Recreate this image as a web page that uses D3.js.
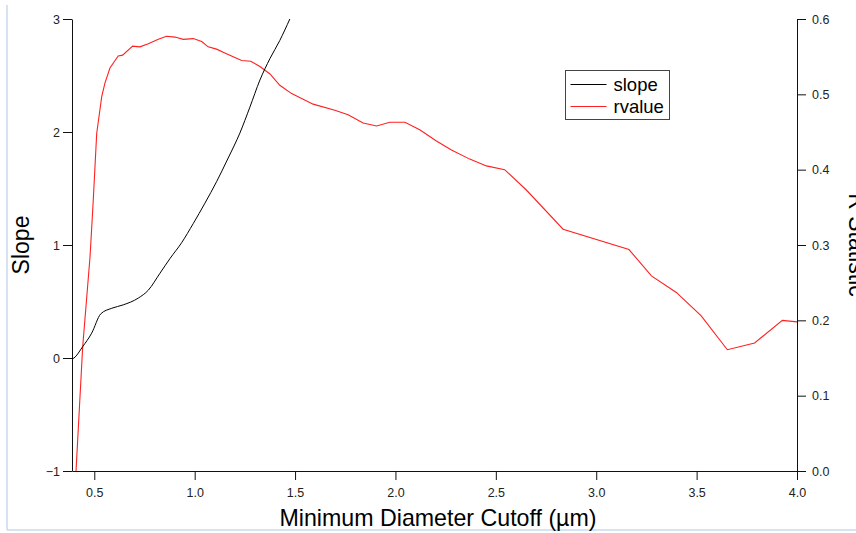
<!DOCTYPE html>
<html>
<head>
<meta charset="utf-8">
<script src="https://cdn.jsdelivr.net/npm/d3@7"></script>
<style>
  html, body { margin: 0; padding: 0; background: #fff; overflow: hidden; }
  svg { display: block; font-family: "Liberation Sans", Arial, Helvetica, sans-serif; }
</style>
</head>
<body>
<svg id="chart" width="856" height="533"></svg>
<script>
// Slope of the fit versus the minimum diameter cutoff
const slopeDiameter = [0.389, 0.399, 0.442, 0.487, 0.532, 0.587, 0.644, 0.719, 0.769, 0.827, 0.877, 0.935,
  0.993, 1.051, 1.109, 1.167, 1.225, 1.275, 1.325, 1.375, 1.424, 1.474];
const slopeValues = [-0.01, 0.0, 0.10, 0.22, 0.39, 0.44, 0.47, 0.53, 0.60, 0.75, 0.88, 1.02,
  1.19, 1.37, 1.56, 1.77, 1.99, 2.22, 2.46, 2.65, 2.81, 3.0];

// R statistic of the fit versus the minimum diameter cutoff
const rDiameter = [0.409, 0.442, 0.479, 0.495, 0.512, 0.537, 0.553, 0.578, 0.619, 0.641, 0.691, 0.727,
  0.769, 0.819, 0.86, 0.902, 0.943, 0.993, 1.035, 1.067, 1.109, 1.15, 1.192, 1.234, 1.279, 1.325,
  1.375, 1.424, 1.483, 1.59, 1.698, 1.764, 1.839, 1.906, 1.972, 2.047, 2.121, 2.204, 2.279, 2.37,
  2.453, 2.544, 2.652, 2.835, 3.163, 3.275, 3.399, 3.523, 3.653, 3.789, 3.927, 4.0];
const rValues = [0.0, 0.164, 0.285, 0.36, 0.448, 0.497, 0.515, 0.535, 0.551, 0.552, 0.564, 0.563,
  0.567, 0.573, 0.577, 0.576, 0.573, 0.574, 0.570, 0.563, 0.560, 0.555, 0.550, 0.545, 0.544, 0.537,
  0.527, 0.512, 0.501, 0.487, 0.479, 0.473, 0.462, 0.458, 0.463, 0.463, 0.453, 0.438, 0.426, 0.414,
  0.405, 0.400, 0.373, 0.321, 0.294, 0.259, 0.237, 0.206, 0.161, 0.170, 0.200, 0.198];

const xTicks = [0.5, 1.0, 1.5, 2.0, 2.5, 3.0, 3.5, 4.0];
const slopeTicks = [-1, 0, 1, 2, 3];
const rTicks = [0.0, 0.1, 0.2, 0.3, 0.4, 0.5, 0.6];

const legendLabels = ["slope", "rvalue"];
const seriesColors = ["#000000", "#ff2020"];

const svg = d3.select("#chart");

// page frame
svg.append("line").attr("x1", 7).attr("x2", 7).attr("y1", 5).attr("y2", 530)
  .attr("stroke", "#c8daf0").attr("stroke-width", 1.5);
svg.append("line").attr("x1", 7).attr("x2", 856).attr("y1", 530).attr("y2", 530)
  .attr("stroke", "#c8daf0").attr("stroke-width", 1.5);

const plotLeft = 72, plotRight = 797, plotTop = 19, plotBottom = 471;

const x = d3.scaleLinear().domain([0.389, 4.0]).range([plotLeft, plotRight]);
const yS = d3.scaleLinear().domain([-1, 3]).range([plotBottom, plotTop]);
const yR = d3.scaleLinear().domain([0, 0.6]).range([plotBottom, plotTop]);

function styleAxis(g) {
  g.selectAll("path").attr("stroke", "#111");
  g.selectAll("line").attr("stroke", "#111");
  g.selectAll("text").attr("fill", "#222").attr("font-size", 12.5)
    .attr("font-family", "'Liberation Sans', Arial, sans-serif");
}

svg.append("g").attr("transform", `translate(0,${plotBottom})`)
  .call(d3.axisBottom(x).tickValues(xTicks).tickFormat(d3.format(".1f"))
    .tickSizeInner(9).tickSizeOuter(0).tickPadding(8))
  .call(styleAxis);

svg.append("g").attr("transform", `translate(${plotLeft},0)`)
  .call(d3.axisLeft(yS).tickValues(slopeTicks).tickFormat(d3.format("d"))
    .tickSizeInner(9).tickSizeOuter(0).tickPadding(3))
  .call(styleAxis);

svg.append("g").attr("transform", `translate(${plotRight},0)`)
  .call(d3.axisRight(yR).tickValues(rTicks).tickFormat(d3.format(".1f"))
    .tickSizeInner(9).tickSizeOuter(0).tickPadding(6))
  .call(styleAxis);

// data curves
const slopeLine = d3.line()
  .x((d, i) => x(slopeDiameter[i]))
  .y(d => yS(d))
  .curve(d3.curveMonotoneX);

const rLine = d3.line()
  .x((d, i) => x(rDiameter[i]))
  .y(d => yR(d));

svg.append("path").datum(rValues)
  .attr("d", rLine).attr("fill", "none")
  .attr("stroke", seriesColors[1]).attr("stroke-width", 1.1);

svg.append("path").datum(slopeValues)
  .attr("d", slopeLine).attr("fill", "none")
  .attr("stroke", seriesColors[0]).attr("stroke-width", 1);

// axis titles
svg.append("text")
  .attr("transform", `translate(29,${(plotTop + plotBottom) / 2}) rotate(-90)`)
  .attr("text-anchor", "middle").attr("font-size", 23).attr("fill", "#000")
  .text("Slope");

svg.append("text")
  .attr("x", 438).attr("y", 526)
  .attr("text-anchor", "middle").attr("font-size", 23.2).attr("fill", "#000")
  .text("Minimum Diameter Cutoff (\u00b5m)");

// right-hand title runs past the page edge
svg.append("text")
  .attr("transform", `translate(849,${(plotTop + plotBottom) / 2}) rotate(90)`)
  .attr("text-anchor", "middle").attr("font-size", 23).attr("fill", "#000")
  .text("R Statistic");

// legend
const legend = svg.append("g").attr("transform", "translate(565.5,70.5)");
legend.append("rect").attr("width", 104).attr("height", 49)
  .attr("fill", "#fff").attr("stroke", "#444").attr("stroke-width", 1);
legendLabels.forEach((label, i) => {
  const cy = 14 + i * 22;
  legend.append("line").attr("x1", 5).attr("x2", 41).attr("y1", cy).attr("y2", cy)
    .attr("stroke", seriesColors[i]).attr("stroke-width", 1.1);
  legend.append("text").attr("x", 48).attr("y", cy + 6)
    .attr("font-size", 18.5).attr("fill", "#000").text(label);
});
</script>
</body>
</html>
